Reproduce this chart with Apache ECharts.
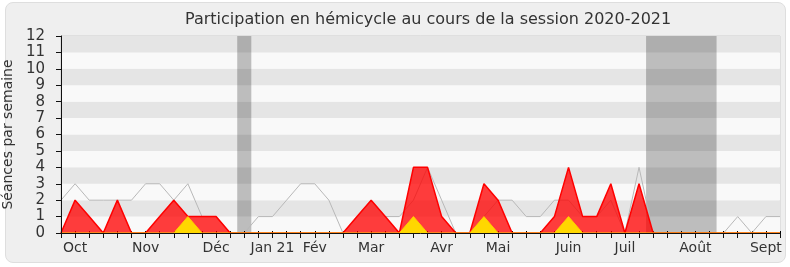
<!DOCTYPE html>
<html>
<head>
<meta charset="utf-8">
<script src="https://cdn.jsdelivr.net/npm/echarts@6/dist/echarts.min.js"></script>
<style>
html,body{margin:0;padding:0;background:#fff;}
#frame{position:absolute;left:5px;top:2px;width:779px;height:259px;background:#efefef;border:1px solid #dedede;border-radius:8px;}
#chart{position:absolute;left:0;top:0;width:790px;height:267px;}
</style>
</head>
<body>
<div id="frame"></div>
<div id="chart"></div>
<script>
// Weekly values, index 0 = first week of the session (late Sept 2020)
const totalSeances = [2,3,2,2,2,2,3,3,2,3,1,1,0,0,1,1,2,3,3,2,0,1,2,1,1,2,4,2,0,0,1,2,2,1,1,2,2,1,1,2,0,4,0,0,0,0,0,0,1,0,1,1];
const presences    = [0,2,1,0,2,0,0,1,2,1,1,1,0,0,0,0,0,0,0,0,0,1,2,1,0,4,4,1,0,0,3,2,0,0,0,1,4,1,1,3,0,3,0,0,0,0,0,0,0,0,0,0];
const interventions= [0,0,0,0,0,0,0,0,0,1,0,0,0,0,0,0,0,0,0,0,0,0,0,0,0,1,0,0,0,0,1,0,0,0,0,0,1,0,0,0,0,0,0,0,0,0,0,0,0,0,0,0];
const monthLabels = ['Oct','Nov','Déc','Jan 21','Fév','Mar','Avr','Mai','Juin','Juil','Août','Sept'];
const monthWeeks  = [1,6,11,15,18,22,27,31,36,40,45,50];
const vacations   = [[12.5,13.5],[41.5,46.5]];
const yTicks = 12;

const toPairs = arr => arr.map((v,i)=>[i,v]);
const labelMap = {};
monthWeeks.forEach((w,i)=>{labelMap[w]=monthLabels[i];});
const nWeeks = totalSeances.length - 1;

const chart = echarts.init(document.getElementById('chart'), null, {renderer:'canvas'});
chart.setOption({
  animation:false,
  backgroundColor:'transparent',
  textStyle:{fontFamily:'DejaVu Sans'},
  title:{
    text:'Participation en hémicycle au cours de la session 2020-2021',
    left:180, top:7,
    textStyle:{fontFamily:'DejaVu Sans',fontSize:16,fontWeight:'normal',color:'#333'}
  },
  grid:{left:61,right:10,top:36,bottom:34,containLabel:false,outerBoundsMode:'none',
    show:true,borderColor:'#cfcfcf',borderWidth:1,backgroundColor:'#f9f9f9'},
  xAxis:[{
    type:'value',min:0,max:nWeeks,interval:1,
    axisLine:{show:false},
    axisTick:{show:false},
    axisLabel:{show:true,margin:8,fontSize:14,color:'#333',fontFamily:'DejaVu Sans',
      formatter:v=>labelMap[v]||'' ,showMinLabel:true,showMaxLabel:true},
    splitLine:{show:false}
  },{
    type:'value',position:'top',min:0,max:nWeeks,interval:1,
    axisLine:{show:false},
    axisTick:{show:true,length:2,lineStyle:{color:'#000'}},
    axisLabel:{show:false},
    splitLine:{show:false}
  },{
    type:'value',position:'bottom',min:0,max:nWeeks,interval:1,z:20,
    axisLine:{show:true,onZero:false,lineStyle:{color:'#111',width:1}},
    axisTick:{show:true,length:5,lineStyle:{color:'#111'}},
    axisLabel:{show:false},
    splitLine:{show:false}
  }],
  yAxis:[{
    type:'value',min:0,max:yTicks,interval:1,
    axisLine:{show:false},
    axisTick:{show:false},
    axisLabel:{show:false},
    splitLine:{show:false},
    splitArea:{show:true,areaStyle:{color:['#f9f9f9','#e5e5e5']}}
  },{
    type:'value',position:'left',min:0,max:yTicks,interval:1,z:20,
    name:'Séances par semaine',nameLocation:'middle',nameGap:41,
    nameTextStyle:{fontSize:14,color:'#333',fontFamily:'DejaVu Sans'},
    axisLine:{show:true,onZero:false,lineStyle:{color:'#111'}},
    axisTick:{show:true,length:5,lineStyle:{color:'#111'}},
    axisLabel:{show:true,fontSize:15,color:'#333',margin:16,fontFamily:'DejaVu Sans'},
    splitLine:{show:false},
    splitArea:{show:false}
  }],
  series:[
    {type:'line',data:toPairs(totalSeances),symbol:'none',z:2,
      lineStyle:{color:'#b8b8b8',width:1}},
    {type:'line',data:toPairs(presences),symbol:'none',z:3,
      lineStyle:{color:'#ff0000',width:1.5},
      areaStyle:{color:'rgba(255,0,0,0.76)',opacity:1,origin:'start'}},
    {type:'line',data:toPairs(interventions),symbol:'none',z:4,
      lineStyle:{color:'#ffcc00',width:1},
      areaStyle:{color:'#ffd700',opacity:1,origin:'start'}},
    {type:'line',data:[],z:6,silent:true,
      markArea:{silent:true,itemStyle:{color:'rgba(0,0,0,0.24)'},
        data:vacations.map(v=>[{xAxis:v[0],yAxis:0},{xAxis:v[1],yAxis:yTicks}])}}
  ]
});
</script>
</body>
</html>
